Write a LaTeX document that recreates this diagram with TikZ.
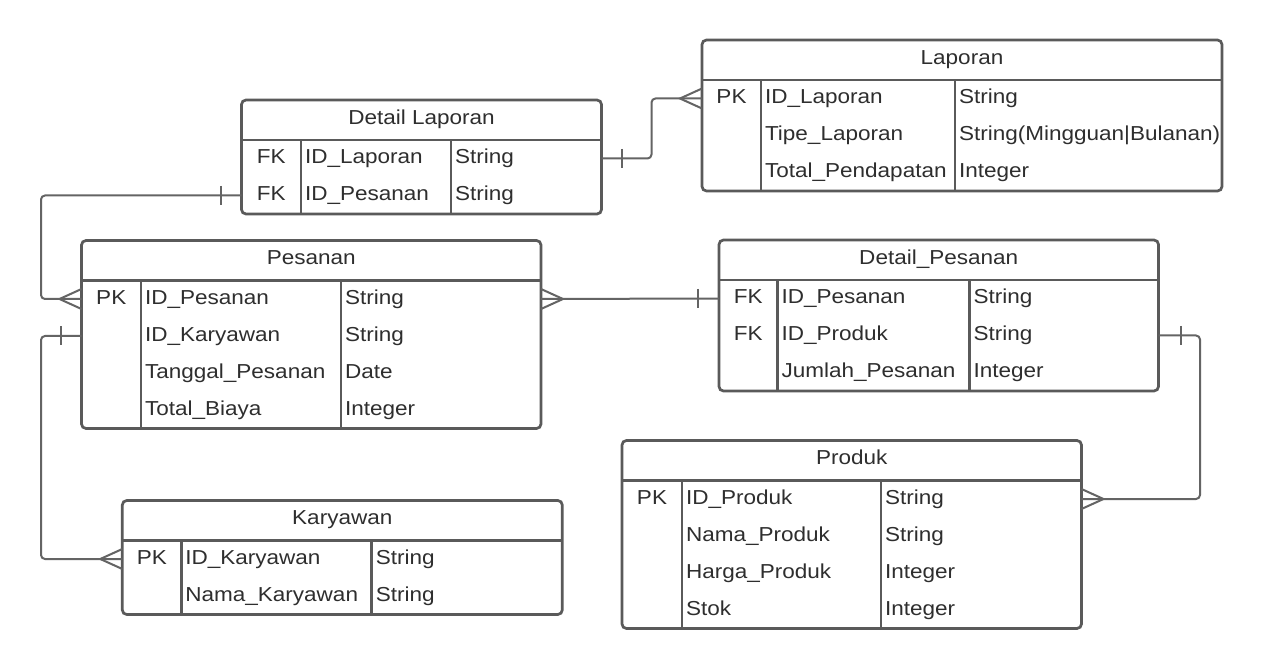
\documentclass[tikz,border=0pt]{standalone}
\usepackage{fontspec}
\setmainfont{Liberation Sans}[FakeStretch=1.115]
\definecolor{boxcol}{HTML}{5A5A5A}
\definecolor{conncol}{HTML}{646464}
\definecolor{txtcol}{HTML}{2E2E2E}
\tikzset{
  erbox/.style={draw=boxcol, line width=2.7pt, rounded corners=4.5pt, fill=white, inner sep=0pt, outer sep=0pt},
  boxline/.style={draw=boxcol, line width=2.7pt},
  rowbox/.style={inner sep=0pt, outer sep=0pt},
  txt/.style={inner sep=0pt, outer sep=0pt, text=txtcol, font=\fontsize{20.2}{24}\selectfont},
  conn/.style={draw=conncol, line width=2pt},
}
\newcommand\ertable[8]{%
  \def\tL{#2}\def\tT{#3}\def\tW{#4}\def\tCa{#5}\def\tCb{#6}%
  \node[erbox, minimum width=#4pt, minimum height={40+37*#7}, anchor=north west] (#1) at (#2,#3) {};
  \draw[boxline] (#2,#3+40) -- (#2+#4,#3+40);
  \draw[boxline] (#2+#5,#3+40) -- (#2+#5,#3+40+37*#7);
  \draw[boxline] (#2+#6,#3+40) -- (#2+#6,#3+40+37*#7);
  \node[txt, anchor=base] (#1-title) at (#2+#4/2,#3+24.2) {#8};
}
\newcommand\errow[5]{%
  \node[rowbox, minimum width=\tW pt, minimum height=37pt, anchor=north west] (#1-r#2) at (\tL,\tT+3+37*#2) {};
  \node[txt, anchor=base] (#1-k#2) at (\tL+\tCa/2, \tT+26.9+37*#2) {#3};
  \node[txt, anchor=base west] (#1-a#2) at (\tL+\tCa+4, \tT+26.9+37*#2) {#4};
  \node[txt, anchor=base west] (#1-t#2) at (\tL+\tCb+4, \tT+26.9+37*#2) {#5};
}
% crow's foot: #1 point at box edge, #2 = +1 apex to the right, -1 apex to the left
\newcommand\crowfoot[2]{%
  \draw[conn] ([yshift=10pt]#1) -- ([xshift={#2*22pt}]#1) -- ([yshift=-10pt]#1);
}
% one mark: #1 point at box edge, #2 = direction (+1 right, -1 left), #3 distance
\newcommand\onemark[3]{%
  \draw[conn] ([xshift={#2*#3pt}, yshift=9.5pt]#1) -- ([xshift={#2*#3pt}, yshift=-9.5pt]#1);
}
\begin{document}
\begin{tikzpicture}[x=1pt,y=-1pt]
\fill[white] (0,0) rectangle (1262,668);
\path[use as bounding box] (0,0) rectangle (1262,668);

\ertable{lap}{702}{40}{520}{59}{253}{3}{Laporan}
\errow{lap}{1}{PK}{ID\_Laporan}{String}
\errow{lap}{2}{}{Tipe\_Laporan}{String(Mingguan|Bulanan)}
\errow{lap}{3}{}{Total\_Pendapatan}{Integer}

\ertable{dlap}{241.5}{100}{360}{59.5}{209.5}{2}{Detail Laporan}
\errow{dlap}{1}{FK}{ID\_Laporan}{String}
\errow{dlap}{2}{FK}{ID\_Pesanan}{String}

\ertable{pes}{81.5}{240.5}{459.5}{59.5}{259.5}{4}{Pesanan}
\errow{pes}{1}{PK}{ID\_Pesanan}{String}
\errow{pes}{2}{}{ID\_Karyawan}{String}
\errow{pes}{3}{}{Tanggal\_Pesanan}{Date}
\errow{pes}{4}{}{Total\_Biaya}{Integer}

\ertable{dpes}{719}{240}{439.5}{58.5}{250.5}{3}{Detail\_Pesanan}
\errow{dpes}{1}{FK}{ID\_Pesanan}{String}
\errow{dpes}{2}{FK}{ID\_Produk}{String}
\errow{dpes}{3}{}{Jumlah\_Pesanan}{Integer}

\ertable{prod}{622}{440.5}{459.5}{60}{259}{4}{Produk}
\errow{prod}{1}{PK}{ID\_Produk}{String}
\errow{prod}{2}{}{Nama\_Produk}{String}
\errow{prod}{3}{}{Harga\_Produk}{Integer}
\errow{prod}{4}{}{Stok}{Integer}

\ertable{kar}{122.3}{500.5}{440}{59}{249.5}{2}{Karyawan}
\errow{kar}{1}{PK}{ID\_Karyawan}{String}
\errow{kar}{2}{}{Nama\_Karyawan}{String}

\coordinate (lx) at (41,0);
\coordinate (rx) at (1200,0);

% Detail Laporan -> Laporan
\draw[conn, rounded corners=4pt] (dlap-r1.east) -- ++(50,0) |- (lap-r1.west);
\onemark{dlap-r1.east}{1}{20}
\crowfoot{lap-r1.west}{-1}

% Detail Laporan -> Pesanan
\draw[conn, rounded corners=4pt] (dlap-r2.west) -- (dlap-r2.west -| lx) |- (pes-r1.west);
\onemark{dlap-r2.west}{-1}{21}
\crowfoot{pes-r1.west}{-1}

% Pesanan -> Detail_Pesanan
\draw[conn] (pes-r1.east) -- (dpes-r1.west);
\crowfoot{pes-r1.east}{1}
\onemark{dpes-r1.west}{-1}{21}

% Pesanan -> Karyawan
\draw[conn, rounded corners=4pt] (pes-r2.west) -- (pes-r2.west -| lx) |- (kar-r1.west);
\onemark{pes-r2.west}{-1}{21}
\crowfoot{kar-r1.west}{-1}

% Detail_Pesanan -> Produk
\draw[conn, rounded corners=4pt] (dpes-r2.east) -- (dpes-r2.east -| rx) |- (prod-r1.east);
\onemark{dpes-r2.east}{1}{22}
\crowfoot{prod-r1.east}{1}
\end{tikzpicture}
\end{document}
